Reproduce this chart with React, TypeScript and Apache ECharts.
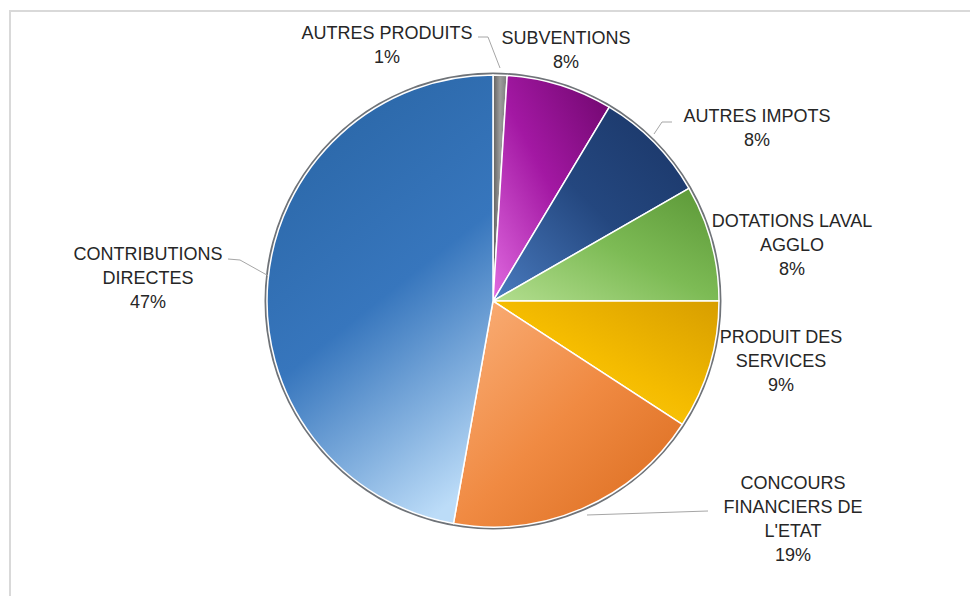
import React, { useEffect, useRef } from "react";
import * as echarts from "echarts";

// ---- data ----
const categories = [
  "AUTRES PRODUITS",
  "SUBVENTIONS",
  "AUTRES IMPOTS",
  "DOTATIONS LAVAL\nAGGLO",
  "PRODUIT DES\nSERVICES",
  "CONCOURS\nFINANCIERS DE\nL'ETAT",
  "CONTRIBUTIONS\nDIRECTES",
];
const values = [1.0, 7.6, 8.1, 8.3, 9.2, 18.6, 47.2];

// ---- styling / layout (not data) ----
const gradients: [string, string, string, number[]][] = [
  ["#5e5e5e", "#9c9c9c", "#7a7a7a", [0, 0, 1, 0]],
  ["#6e066c", "#a318a3", "#e06ae0", [1, 0, 0, 1]],
  ["#1a3566", "#24477f", "#4a7cc0", [1, 0, 0, 1]],
  ["#5a9636", "#7dbb55", "#b3de8f", [1, 0, 0, 1]],
  ["#d79e00", "#f5bc00", "#ffd324", [1, 0, 0, 1]],
  ["#fab07a", "#f08a42", "#d96a1c", [0, 0, 1, 1]],
  ["#2a66a6", "#3776bd", "#bcdcf8", [0.3, 0, 0.7, 1]],
];
const labelPos: number[][] = [
  [387, 45],
  [566, 50],
  [757, 128],
  [792, 245],
  [781, 361],
  [793, 519],
  [148, 278],
];
const linePts: (number[][] | null)[] = [
  [[478, 37], [488, 37], [500, 68]],
  null,
  [[654, 134], [662, 122], [672, 122]],
  null,
  null,
  [[587, 515], [708, 511]],
  [[228, 259], [240, 260], [283, 284]],
];

const CENTER = [493, 301];
const RADIUS = 226;

export default function App() {
  const ref = useRef<HTMLDivElement>(null);
  useEffect(() => {
    if (!ref.current) return;
    const chart = echarts.init(ref.current, null, { renderer: "svg" });
    const data = categories.map((name, i) => {
      const g = gradients[i];
      return {
        name,
        value: values[i],
        itemStyle: {
          color: {
            type: "linear",
            x: g[3][0],
            y: g[3][1],
            x2: g[3][2],
            y2: g[3][3],
            colorStops: [
              { offset: 0, color: g[0] },
              { offset: 0.5, color: g[1] },
              { offset: 1, color: g[2] },
            ],
          },
        },
        labelLine: { show: linePts[i] !== null },
      };
    });
    const total = values.reduce((a, b) => a + b, 0);
    chart.setOption({
      animation: false,
      backgroundColor: "#ffffff",
      graphic: [
        {
          type: "rect",
          shape: { x: 10, y: 11, width: 1000, height: 700 },
          style: { fill: "none", stroke: "#d9d9d9", lineWidth: 2 },
          silent: true,
        },
      ],
      series: [
        {
          // outer rim behind the slices
          type: "pie",
          center: CENTER,
          radius: RADIUS + 2.5,
          silent: true,
          z: 1,
          label: { show: false },
          labelLine: { show: false },
          itemStyle: { color: "#6f7378" },
          data: [{ name: "rim", value: total }],
        },
        {
          type: "pie",
          center: CENTER,
          radius: RADIUS,
          startAngle: 90,
          clockwise: true,
          avoidLabelOverlap: false,
          z: 2,
          data,
          itemStyle: {
            borderColor: "#ffffff",
            borderWidth: 1.5,
          },
          label: {
            show: true,
            position: "outside",
            formatter: (p: any) => `${p.name}\n${Math.round(p.percent)}%`,
            fontFamily: "'Liberation Sans', Arial, sans-serif",
            fontSize: 18,
            lineHeight: 24,
            color: "#262626",
            align: "center",
          },
          labelLine: {
            show: true,
            length: 10,
            length2: 10,
            lineStyle: { color: "#a6a6a6", width: 1 },
          },
          labelLayout: (params: any) => {
            const i = params.dataIndex;
            const out: any = {
              x: labelPos[i][0],
              y: labelPos[i][1],
              align: "center",
              verticalAlign: "middle",
            };
            if (linePts[i]) out.labelLinePoints = linePts[i];
            return out;
          },
        },
      ],
    });
    return () => chart.dispose();
  }, []);
  return (
    <div
      ref={ref}
      style={{ position: "fixed", left: 0, top: 0, width: 970, height: 596 }}
    />
  );
}
